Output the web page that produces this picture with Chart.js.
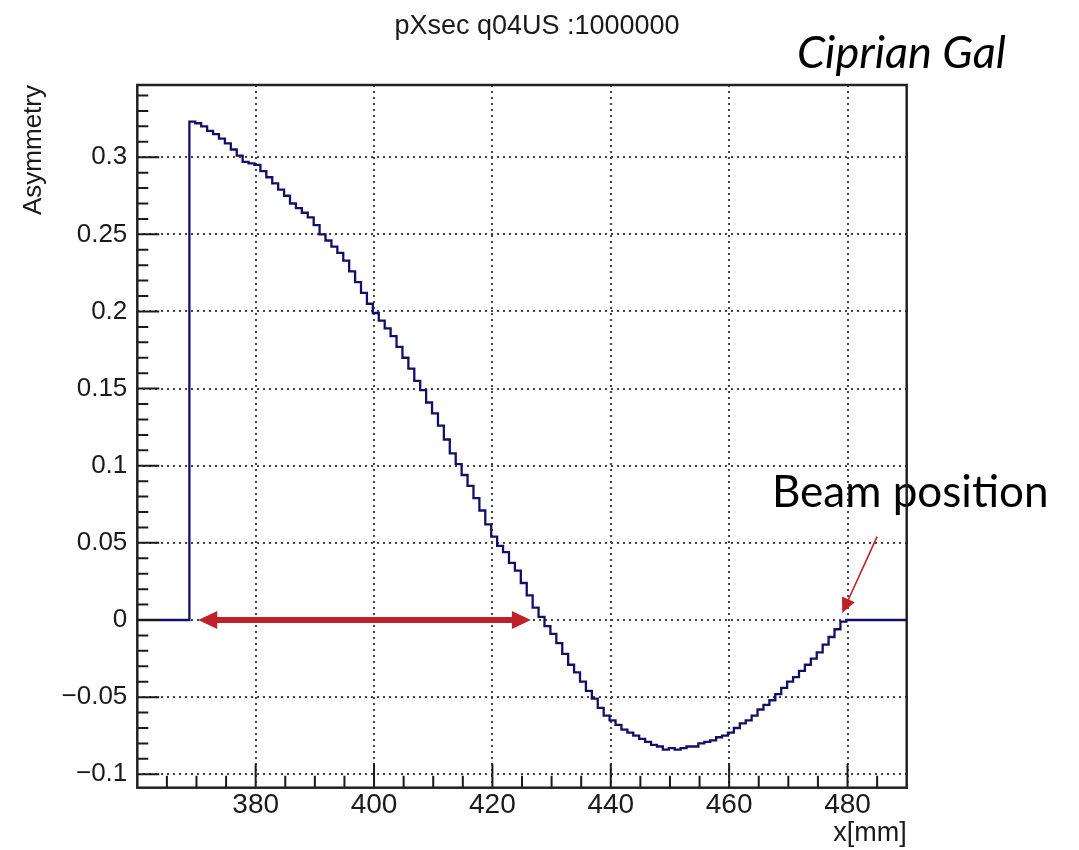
<!DOCTYPE html>
<html>
<head>
<meta charset="utf-8">
<script src="https://cdn.jsdelivr.net/npm/chart.js@4.4.1/dist/chart.umd.min.js"></script>
<style>html,body{margin:0;background:#fff}</style>
</head>
<body>
<canvas id="chart" width="1079" height="850"></canvas>
<script>
// ─── DATA ─────────────────────────────────────────────────────────────────────
const binStart = 368.8, binWidth = 1.0;
const asym = [
  0.323, 0.322, 0.320, 0.317, 0.315, 0.312, 0.309, 0.305, 0.301, 0.297,
  0.296, 0.295, 0.291, 0.287, 0.283, 0.279, 0.275, 0.270, 0.267, 0.264,
  0.261, 0.256, 0.250, 0.246, 0.242, 0.238, 0.233, 0.226, 0.219, 0.212,
  0.205, 0.199, 0.194, 0.189, 0.184, 0.177, 0.170, 0.163, 0.155, 0.149,
  0.141, 0.134, 0.126, 0.117, 0.108, 0.101, 0.094, 0.087, 0.079, 0.071,
  0.062, 0.054, 0.048, 0.044, 0.037, 0.032, 0.024, 0.016, 0.008, 0.002,
  -0.004, -0.009, -0.015, -0.022, -0.029, -0.034, -0.040, -0.046, -0.051, -0.057,
  -0.062, -0.065, -0.068, -0.071, -0.073, -0.075, -0.077, -0.079, -0.081, -0.082,
  -0.084, -0.083, -0.084, -0.083, -0.082, -0.082, -0.080, -0.079, -0.078, -0.076,
  -0.075, -0.073, -0.070, -0.067, -0.065, -0.062, -0.058, -0.055, -0.052, -0.048,
  -0.044, -0.040, -0.037, -0.033, -0.029, -0.025, -0.021, -0.016, -0.011, -0.006, -0.001
];
const xRange = [360, 490];
const yRange = [-0.1087, 0.3468];
const xTicks = [380, 400, 420, 440, 460, 480];
const yTicks = [-0.1, -0.05, 0, 0.05, 0.1, 0.15, 0.2, 0.25, 0.3];
const yTickLabels = ['\u22120.1', '\u22120.05', '0', '0.05', '0.1', '0.15', '0.2', '0.25', '0.3'];
// annotation anchors, in data units
const rangeArrow = { from: 370.3, to: 426.5, y: 0 };
const beamArrow = { tail: [485.0, 0.054], tip: [479.1, 0.0045] };

// ─── HELPERS ──────────────────────────────────────────────────────────────────
const RED = '#c0202a';
const FONT = '"Liberation Sans", Arial, sans-serif';

const points = [{ x: xRange[0], y: 0 }]
  .concat(asym.map((v, i) => ({ x: binStart + i * binWidth, y: v })))
  .concat([{ x: binStart + asym.length * binWidth, y: 0 }, { x: xRange[1], y: 0 }]);

function head(ctx, tx, ty, ang, len, hw) {
  ctx.beginPath();
  ctx.moveTo(tx, ty);
  ctx.lineTo(tx - len * Math.cos(ang) + hw * Math.sin(ang), ty - len * Math.sin(ang) - hw * Math.cos(ang));
  ctx.lineTo(tx - len * Math.cos(ang) - hw * Math.sin(ang), ty - len * Math.sin(ang) + hw * Math.cos(ang));
  ctx.closePath();
  ctx.fill();
}

const rootFrame = {
  id: 'rootFrame',
  afterDraw(chart) {
    const { ctx, chartArea: a, scales: { x, y } } = chart;
    ctx.save();
    // ticks, ROOT style (inside the frame)
    ctx.strokeStyle = '#1a1a1a';
    ctx.lineWidth = 2;
    ctx.beginPath();
    for (let v = 365; v < 490; v += 5) {
      const px = x.getPixelForValue(v), len = v % 20 === 0 ? 24 : 12;
      ctx.moveTo(px, a.bottom); ctx.lineTo(px, a.bottom - len);
    }
    for (let i = -10; i <= 34; i++) {
      const py = y.getPixelForValue(i / 100), len = i % 5 === 0 ? 22 : 11;
      ctx.moveTo(a.left, py); ctx.lineTo(a.left + len, py);
    }
    ctx.stroke();

    // texts
    ctx.fillStyle = '#1a1a1a';
    ctx.font = '27px ' + FONT;
    ctx.textAlign = 'center'; ctx.textBaseline = 'alphabetic';
    ctx.fillText('pXsec q04US :1000000', 537, 34);
    ctx.font = '27px ' + FONT;
    ctx.textAlign = 'right';
    ctx.fillText('x[mm]', a.right, 841);
    ctx.save();
    ctx.translate(34, a.top);
    ctx.rotate(-Math.PI / 2);
    ctx.textBaseline = 'middle';
    ctx.font = '26px ' + FONT;
    ctx.fillText('Asymmetry', 0, 0);
    ctx.restore();

    ctx.fillStyle = '#000';
    ctx.textAlign = 'left';
    ctx.font = 'italic 45px Lato, "Open Sans", sans-serif';
    ctx.fillText('Ciprian Gal', 797, 68);
    ctx.font = '44px Lato, "Open Sans", sans-serif';
    ctx.fillText('Beam position', 772, 507);

    // frame
    ctx.strokeStyle = '#222';
    ctx.lineWidth = 2.5;
    ctx.strokeRect(a.left, a.top, a.right - a.left, a.bottom - a.top);

    // red double arrow
    ctx.fillStyle = RED; ctx.strokeStyle = RED;
    const x0 = x.getPixelForValue(rangeArrow.from), x1 = x.getPixelForValue(rangeArrow.to);
    const ya = y.getPixelForValue(rangeArrow.y);
    ctx.lineWidth = 6;
    ctx.beginPath(); ctx.moveTo(x0 + 15, ya); ctx.lineTo(x1 - 15, ya); ctx.stroke();
    head(ctx, x0, ya, Math.PI, 19, 9);
    head(ctx, x1, ya, 0, 19, 9);

    // beam position arrow
    const bx0 = x.getPixelForValue(beamArrow.tail[0]), by0 = y.getPixelForValue(beamArrow.tail[1]);
    const bx1 = x.getPixelForValue(beamArrow.tip[0]), by1 = y.getPixelForValue(beamArrow.tip[1]);
    const ang = Math.atan2(by1 - by0, bx1 - bx0);
    ctx.lineWidth = 1.6;
    ctx.beginPath(); ctx.moveTo(bx0, by0); ctx.lineTo(bx1 - 10 * Math.cos(ang), by1 - 10 * Math.sin(ang)); ctx.stroke();
    head(ctx, bx1, by1, ang, 15, 7);
    ctx.restore();
  }
};

// ─── CHART ────────────────────────────────────────────────────────────────────
new Chart(document.getElementById('chart'), {
  type: 'line',
  data: { datasets: [{
    data: points, stepped: 'before',
    borderColor: '#101068', borderWidth: 2.3, pointRadius: 0, fill: false, tension: 0
  }]},
  options: {
    responsive: false, animation: false,
    layout: { padding: { top: 85, right: 172.3, left: 0, bottom: 0 } },
    plugins: { legend: { display: false }, tooltip: { enabled: false } },
    scales: {
      x: {
        type: 'linear', min: xRange[0], max: xRange[1],
        afterBuildTicks: s => { s.ticks = xTicks.map(v => ({ value: v })); },
        afterFit: s => { s.height = 62.3; },
        grid: { color: '#444', lineWidth: 2, drawTicks: false },
        border: { display: false, dash: [2, 4] },
        ticks: { color: '#1a1a1a', font: { family: FONT, size: 28 }, padding: 1, maxRotation: 0,
          callback: v => String(v) }
      },
      y: {
        type: 'linear', min: yRange[0], max: yRange[1],
        afterBuildTicks: s => { s.ticks = yTicks.map(v => ({ value: v })); },
        afterFit: s => { s.width = 137.3; },
        grid: { color: '#444', lineWidth: 2, drawTicks: false },
        border: { display: false, dash: [2, 4] },
        ticks: { color: '#1a1a1a', font: { family: FONT, size: 26 }, padding: 10,
          callback: (v, i) => yTickLabels[i] }
      }
    }
  },
  plugins: [rootFrame]
});
</script>
</body>
</html>
